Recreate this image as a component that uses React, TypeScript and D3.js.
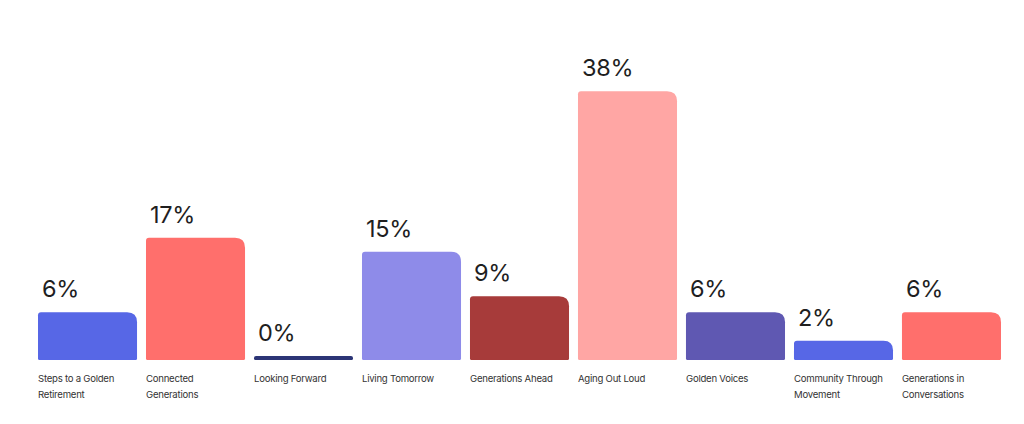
import React, { useEffect, useRef } from "react";
import * as d3 from "d3";

const categories = [
  "Steps to a Golden Retirement",
  "Connected Generations",
  "Looking Forward",
  "Living Tomorrow",
  "Generations Ahead",
  "Aging Out Loud",
  "Golden Voices",
  "Community Through Movement",
  "Generations in Conversations",
];
const values = [6.3, 17, 0, 15, 8.6, 38.1, 6.3, 2.2, 6.3];
const valueLabels = ["6%", "17%", "0%", "15%", "9%", "38%", "6%", "2%", "6%"];
const colors = [
  "#5767E6",
  "#FF6F6C",
  "#2C3576",
  "#8E8BE9",
  "#A73B3A",
  "#FFA6A4",
  "#5F58B2",
  "#5767E6",
  "#FF6F6C",
];

const W = 1024;
const H = 424;
const BASE = 360;
const MIN_H = 4;

function barPath(x: number, y: number, w: number, h: number) {
  const rr = Math.min(10, h / 2, w / 2);
  const rl = Math.min(3, h / 2);
  const rb = Math.min(1.5, h / 2);
  return [
    `M${x},${y + rl}`,
    `Q${x},${y} ${x + rl},${y}`,
    `L${x + w - rr},${y}`,
    `Q${x + w},${y} ${x + w},${y + rr}`,
    `L${x + w},${y + h - rb}`,
    `Q${x + w},${y + h} ${x + w - rb},${y + h}`,
    `L${x + rb},${y + h}`,
    `Q${x},${y + h} ${x},${y + h - rb}`,
    "Z",
  ].join(" ");
}

export default function App() {
  const ref = useRef<SVGSVGElement | null>(null);

  useEffect(() => {
    const svg = d3.select(ref.current);
    svg.selectAll("*").remove();

    const x = d3
      .scaleBand<number>()
      .domain(d3.range(categories.length))
      .range([38, 1001])
      .paddingInner(0.083)
      .paddingOuter(0);
    const y = d3.scaleLinear().domain([0, 40]).range([0, 278]);

    const g = svg.append("g");
    const bw = x.bandwidth();

    categories.forEach((cat, i) => {
      const x0 = x(i)!;
      const h = MIN_H + y(values[i]);
      const top = BASE - h;
      g.append("path")
        .attr("d", barPath(x0, top, bw, h))
        .attr("fill", colors[i]);

      g.append("text")
        .attr("x", x0 + 4)
        .attr("y", top - 15)
        .attr("font-family", "Inter, 'Noto Sans', sans-serif")
        .attr("font-size", 23.5)
        .attr("font-weight", 400)
        .attr("fill", "#1f1f1f")
        .attr("letter-spacing", -0.3)
        .text(valueLabels[i]);

      const t = g
        .append("text")
        .attr("x", x0)
        .attr("y", 382)
        .attr("font-family", "Inter, 'Noto Sans', sans-serif")
        .attr("font-size", 9.6)
        .attr("letter-spacing", -0.25)
        .attr("fill", "#333");
      const words = cat.split(" ");
      let line: string[] = [];
      let tspan = t.append("tspan").attr("x", x0).attr("dy", 0);
      words.forEach((w) => {
        line.push(w);
        tspan.text(line.join(" "));
        const len = (tspan.node() as SVGTSpanElement).getComputedTextLength();
        if (len > 93 && line.length > 1) {
          line.pop();
          tspan.text(line.join(" "));
          line = [w];
          tspan = t
            .append("tspan")
            .attr("x", x0)
            .attr("dy", 15.6)
            .text(w);
        }
      });
    });
  }, []);

  return (
    <svg
      ref={ref}
      width={W}
      height={H}
      style={{ position: "absolute", left: 0, top: 0, background: "#fff" }}
    />
  );
}
